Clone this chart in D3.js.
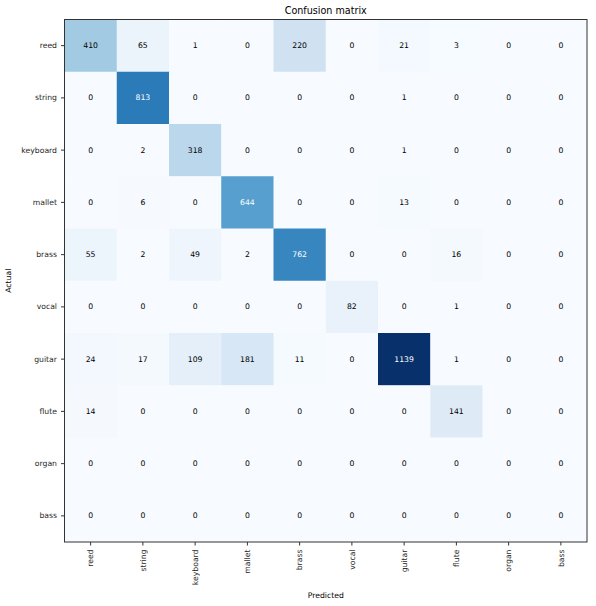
<!DOCTYPE html>
<html>
<head>
<meta charset="utf-8">
<script src="https://cdn.jsdelivr.net/npm/d3@7"></script>
<style>
  body { margin: 0; background: #fff; }
  text { font-family: "DejaVu Sans", sans-serif; }
</style>
</head>
<body>
<div id="wrapper"></div>
<script>
// 1. data
const classes = ["reed", "string", "keyboard", "mallet", "brass", "vocal", "guitar", "flute", "organ", "bass"];
const matrix = [
    [410, 65, 1, 0, 220, 0, 21, 3, 0, 0],
    [0, 813, 0, 0, 0, 0, 1, 0, 0, 0],
    [0, 2, 318, 0, 0, 0, 1, 0, 0, 0],
    [0, 6, 0, 644, 0, 0, 13, 0, 0, 0],
    [55, 2, 49, 2, 762, 0, 0, 16, 0, 0],
    [0, 0, 0, 0, 0, 82, 0, 1, 0, 0],
    [24, 17, 109, 181, 11, 0, 1139, 1, 0, 0],
    [14, 0, 0, 0, 0, 0, 0, 141, 0, 0],
    [0, 0, 0, 0, 0, 0, 0, 0, 0, 0],
    [0, 0, 0, 0, 0, 0, 0, 0, 0, 0]
];

const cells = [];
matrix.forEach((row, i) => row.forEach((v, j) => cells.push({actual: classes[i], predicted: classes[j], value: v})));

// 2. dimensions
const dimensions = {
    width: 596,
    height: 606,
    margin: { top: 19.5, right: 9, bottom: 64, left: 64.5 }
};
dimensions.boundedWidth = dimensions.width - dimensions.margin.left - dimensions.margin.right;
dimensions.boundedHeight = dimensions.height - dimensions.margin.top - dimensions.margin.bottom;

const fontSize = '7.7px';

// 3. canvas
const wrapper = d3.select('#wrapper')
    .append('svg')
    .attr('width', dimensions.width)
    .attr('height', dimensions.height);

const bounds = wrapper.append('g')
    .attr('transform', `translate(${dimensions.margin.left}, ${dimensions.margin.top})`);

// 4. scales
const xScale = d3.scaleBand().domain(classes).range([0, dimensions.boundedWidth]);
const yScale = d3.scaleBand().domain(classes).range([0, dimensions.boundedHeight]);
const maxValue = d3.max(cells, d => d.value);
const colorScale = d3.scaleSequential(d3.interpolateBlues).domain([0, maxValue]);
const thresh = maxValue / 2;

// 5. draw data
bounds.selectAll('.cell')
    .data(cells)
    .enter()
    .append('rect')
    .attr('class', 'cell')
    .attr('x', d => xScale(d.predicted))
    .attr('y', d => yScale(d.actual))
    .attr('width', xScale.bandwidth() + 0.5)
    .attr('height', yScale.bandwidth() + 0.5)
    .attr('fill', d => colorScale(d.value));

bounds.selectAll('.cell-label')
    .data(cells)
    .enter()
    .append('text')
    .attr('class', 'cell-label')
    .attr('x', d => xScale(d.predicted) + xScale.bandwidth() / 2)
    .attr('y', d => yScale(d.actual) + yScale.bandwidth() / 2)
    .attr('text-anchor', 'middle')
    .attr('dominant-baseline', 'central')
    .style('font-size', fontSize)
    .attr('fill', d => d.value > thresh ? '#ffffff' : '#000000')
    .text(d => d.value);

// frame
bounds.append('rect')
    .attr('width', dimensions.boundedWidth)
    .attr('height', dimensions.boundedHeight)
    .attr('fill', 'none')
    .attr('stroke', '#333')
    .attr('stroke-width', 1);

// 6. peripherals
const xAxis = bounds.append('g')
    .attr('transform', `translate(0, ${dimensions.boundedHeight})`)
    .call(d3.axisBottom(xScale).tickSizeOuter(0).tickSizeInner(3.5).tickPadding(3.5));
xAxis.selectAll('text')
    .attr('transform', 'rotate(-90)')
    .attr('x', -7.5)
    .attr('y', 0)
    .attr('dy', '0.35em')
    .style('text-anchor', 'end');

const yAxis = bounds.append('g')
    .call(d3.axisLeft(yScale).tickSizeOuter(0).tickSizeInner(3.5).tickPadding(4));

[xAxis, yAxis].forEach(axis => {
    axis.select('.domain').remove();
    axis.selectAll('line').attr('stroke', '#333');
    axis.selectAll('text')
        .style('font-size', fontSize)
        .style('font-family', '"DejaVu Sans", sans-serif')
        .attr('fill', '#262626');
});

wrapper.append('text')
    .attr('x', dimensions.margin.left + dimensions.boundedWidth / 2)
    .attr('y', 13.5)
    .attr('text-anchor', 'middle')
    .style('font-size', '9.6px')
    .attr('fill', '#000')
    .text('Confusion matrix');

wrapper.append('text')
    .attr('x', dimensions.margin.left + dimensions.boundedWidth / 2)
    .attr('y', 598)
    .attr('text-anchor', 'middle')
    .style('font-size', fontSize)
    .attr('fill', '#000')
    .text('Predicted');

wrapper.append('text')
    .attr('transform', `translate(11, ${dimensions.margin.top + dimensions.boundedHeight / 2}) rotate(-90)`)
    .attr('text-anchor', 'middle')
    .style('font-size', fontSize)
    .attr('fill', '#000')
    .text('Actual');
</script>
</body>
</html>
